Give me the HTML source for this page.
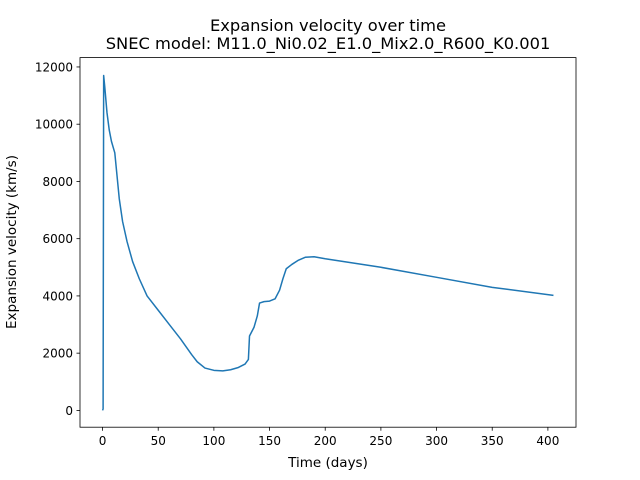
<!DOCTYPE html>
<html><head><meta charset="utf-8"><style>
body{margin:0;background:#fff}
svg{display:block;font-family:"DejaVu Sans","Liberation Sans",sans-serif}
</style></head><body>
<svg id="c" width="640" height="480" viewBox="0 0 640 480">
<rect width="640" height="480" fill="#fff"/>
<text x="328" y="31" font-size="16.3" text-anchor="middle">Expansion velocity over time</text>
<text x="328" y="49" font-size="16.3" text-anchor="middle">SNEC model: M11.0_Ni0.02_E1.0_Mix2.0_R600_K0.001</text>
<g id="ax"></g>
<text x="328" y="467" font-size="13.5" text-anchor="middle">Time (days)</text>
<text transform="translate(16,242) rotate(-90)" font-size="13.5" text-anchor="middle">Expansion velocity (km/s)</text>
</svg>
<script>
const days=[0,0.5,1,2,4,6,8,11,13,15,18,22,27,33,40,50,60,70,80,85,92,100,108,115,122,128,131,132,136,139,141,145,150,155,159,162,165,170,176,182,190,200,250,300,350,405];
const velocity=[0,50,11700,11300,10400,9800,9400,9000,8200,7400,6600,5900,5200,4600,4000,3500,3000,2500,1950,1700,1480,1400,1380,1420,1500,1620,1780,2600,2900,3300,3750,3800,3820,3900,4200,4600,4950,5100,5250,5350,5370,5300,5000,4650,4300,4020];
const xTicks=[0,50,100,150,200,250,300,350,400];
const yTicks=[0,2000,4000,6000,8000,10000,12000];
const L=80,R=576,T=57.6,B=427.2;
const xmin=-20.25,xmax=425.25,ymin=-587,ymax=12327;
const sx=v=>L+(v-xmin)/(xmax-xmin)*(R-L);
const sy=v=>B-(v-ymin)/(ymax-ymin)*(B-T);
const NS="http://www.w3.org/2000/svg";
const g=document.getElementById('ax');
function mk(t,a){const e=document.createElementNS(NS,t);for(const k in a)e.setAttribute(k,a[k]);g.appendChild(e);return e;}
xTicks.forEach(v=>{
 const l=mk('line',{x1:sx(v),x2:sx(v),y1:B,y2:B+3.5,stroke:'#000','stroke-width':0.8});
 
 
 const t=mk('text',{x:sx(v),y:B+18,'font-size':12,'text-anchor':'middle'});t.textContent=v;
 
 
});
yTicks.forEach(v=>{
 const l=mk('line',{x1:L-3.5,x2:L,y1:sy(v),y2:sy(v),stroke:'#000','stroke-width':0.8});
 
 
 const t=mk('text',{x:L-7,y:sy(v)+4.5,'font-size':12,'text-anchor':'end'});t.textContent=v;
 
 
});
const p=mk('polyline',{points:days.map((d,i)=>sx(d)+','+sy(velocity[i])).join(' '),fill:'none',stroke:'#1f77b4','stroke-width':1.5,'stroke-linejoin':'round'});


const f=mk('rect',{x:L,y:T,width:R-L,height:B-T,fill:'none',stroke:'#000','stroke-width':0.8});


</script>
</body></html>
